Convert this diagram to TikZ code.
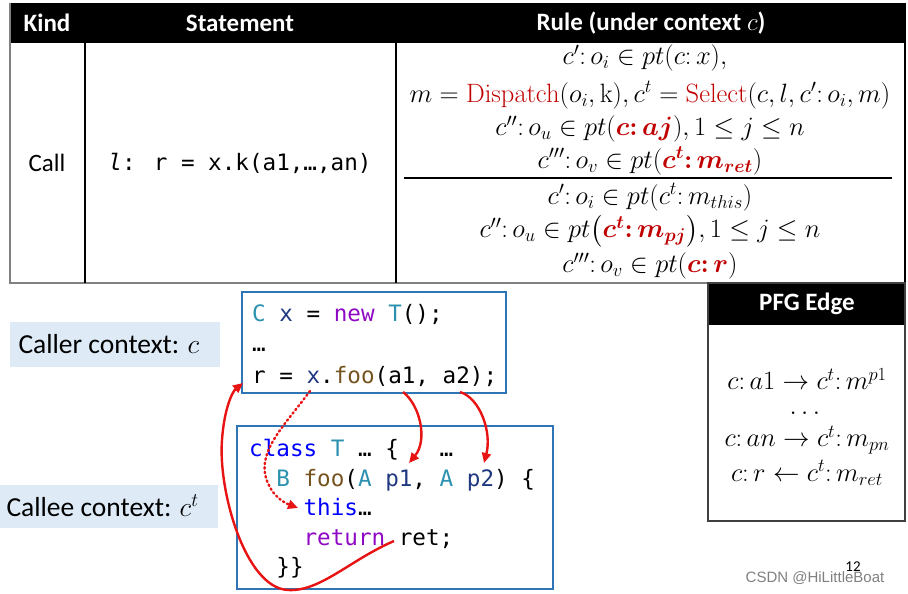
\RequirePackage{fix-cm}
\documentclass[tikz,border=0pt]{standalone}
\usepackage{amsmath, amssymb, bm}
\usepackage{xcolor}
\usepackage[no-math]{fontspec}
\setmainfont{Carlito}
\newfontfamily\codefont{DejaVu Sans Mono}
\newfontfamily\markfont{Liberation Sans}
\usetikzlibrary{positioning, arrows.meta}
\definecolor{boxblue}{RGB}{46,117,182}
\definecolor{labelblue}{RGB}{222,235,247}
\definecolor{rulered}{RGB}{192,0,0}
\definecolor{arrowred}{RGB}{232,20,20}
\definecolor{kwblue}{RGB}{0,0,255}
\definecolor{kwpurple}{RGB}{143,8,196}
\definecolor{typeteal}{RGB}{43,145,175}
\definecolor{varnavy}{RGB}{31,55,127}
\definecolor{funcbrown}{RGB}{116,83,31}
\newcommand{\ckw}[1]{\textcolor{kwblue}{#1}}
\newcommand{\cctl}[1]{\textcolor{kwpurple}{#1}}
\newcommand{\ctype}[1]{\textcolor{typeteal}{#1}}
\newcommand{\cvar}[1]{\textcolor{varnavy}{#1}}
\newcommand{\cfunc}[1]{\textcolor{funcbrown}{#1}}
\newcommand{\hl}[1]{\textcolor{rulered}{\bm{#1}}}
\newcommand{\ctx}[2]{#1{:}\,#2}

\begin{document}
\begin{tikzpicture}[x=1pt,y=-1pt,
  headtxt/.style={text=white, font=\fontsize{25}{29}\selectfont\bfseries},
  celltxt/.style={font=\fontsize{25}{29}\selectfont},
  ruletxt/.style={font=\fontsize{26.5}{30}\selectfont, inner sep=0pt},
  codetxt/.style={anchor=base west, inner sep=0pt, font=\fontsize{22.6}{27}\codefont},
  ctxtxt/.style={anchor=west, font=\fontsize{27.5}{31}\selectfont},
  codebox/.style={draw=boxblue, line width=2pt},
  callarr/.style={-{Triangle[length=10pt,width=9pt]}, line width=2.4pt, arrowred}]
  \useasboundingbox (0,0) rectangle (908,594);

  % rule table
  \fill (10,3) rectangle (905,43);
  \draw[gray, line width=1.2pt] (10,3) -- (10,283) -- (905,283);
  \draw[line width=1.6pt] (85,3) -- (85,283) (396,3) -- (396,283) (905,3) -- (905,283);
  \node[headtxt] (kindhead) at (47,23) {Kind};
  \node[headtxt] (stmthead) at (240,23) {Statement};
  \node[headtxt] (rulehead) at (651,23) {Rule (under context $c$)};
  \node[celltxt] (kindcell) at (47,163) {Call};
  \node[celltxt, font=\fontsize{22.6}{27}\codefont] (stmtcell) at (240,163) {{\itshape l}: r = x.k(a1,…,an)};

  \node[ruletxt] (prem1) at (645,58) {$\ctx{c'}{o_i} \in pt(\ctx{c}{x}),$};
  \node[ruletxt] (prem2) at (650,95) {$m = \textcolor{rulered}{\mathrm{Dispatch}}(o_i,\mathrm{k}), c^t = \textcolor{rulered}{\mathrm{Select}}(c,l,\ctx{c'}{o_i},m)$};
  \node[ruletxt] (prem3) at (650,129) {$\ctx{c''}{o_u} \in pt(\hl{\ctx{c}{aj}}), 1 \le j \le n$};
  \node[ruletxt] (prem4) at (650,161) {$\ctx{c'''}{o_v} \in pt(\hl{\ctx{c^t}{m_{ret}}})$};
  \draw[line width=1.2pt] (404,178) -- (892,178);
  \node[ruletxt] (conc1) at (650,197) {$\ctx{c'}{o_i} \in pt(\ctx{c^t}{m_{this}})$};
  \node[ruletxt] (conc2) at (650,231) {$\ctx{c''}{o_u} \in pt\bigl(\hl{\ctx{c^t}{m_{pj}}}\bigr), 1 \le j \le n$};
  \node[ruletxt] (conc3) at (650,266) {$\ctx{c'''}{o_v} \in pt(\hl{\ctx{c}{r}})$};

  % PFG edge table
  \fill (708,283) rectangle (905,325);
  \draw[black!75, line width=1.4pt] (708,283) rectangle (905,521);
  \node[headtxt] (pfghead) at (807,304) {PFG Edge};
  \node[ruletxt] (edge1) at (807,379) {$\ctx{c}{a1} \rightarrow \ctx{c^t}{m^{p1}}$};
  \node[ruletxt] (edge2) at (807,413) {$\dots$};
  \node[ruletxt] (edge3) at (807,440) {$\ctx{c}{an} \rightarrow \ctx{c^t}{m_{pn}}$};
  \node[ruletxt] (edge4) at (807,473) {$\ctx{c}{r} \leftarrow \ctx{c^t}{m_{ret}}$};

  % context labels
  \fill[labelblue] (10,322) rectangle (220,367);
  \node[ctxtxt] (callerlbl) at (15,344) {Caller context: $c$};
  \fill[labelblue] (0,485) rectangle (218,528);
  \node[ctxtxt] (calleelbl) at (3,506) {Callee context: $c^t$};

  % caller code
  \draw[codebox] (242,292) rectangle (506,393);
  \node[codetxt] (caller1) at (252,321) {\ctype{C} \cvar{x} = \cctl{new} \ctype{T}();};
  \node[codetxt] (caller2) at (252,351) {…};
  \node[codetxt] (caller3) at (252,383) {r = \cvar{x}.\cfunc{foo}(a1, a2);};

  % callee code
  \draw[codebox] (237,426) rectangle (553,589);
  \node[codetxt] (callee1) at (249,456) {\ckw{class} \ctype{T} … \{\ \ \ …};
  \node[codetxt] (callee2) at (249,486) {\ \ \ctype{B} \cfunc{foo}(\ctype{A} \cvar{p1}, \ctype{A} \cvar{p2}) \{};
  \node[codetxt] (callee3) at (249,515) {\ \ \ \ \ckw{this}…};
  \node[codetxt] (callee4) at (249,545) {\ \ \ \ \cctl{return} ret;};
  \node[codetxt] (callee5) at (249,574) {\ \ \}\}};

  % argument, receiver and return flows
  \coordinate (xsrc) at (310,391);
  \coordinate (thisdst) at (298,508);
  \coordinate (a1src) at (403,392);
  \coordinate (p1dst) at (409,463);
  \coordinate (a2src) at (460,392);
  \coordinate (p2dst) at (484,463);
  \coordinate (retsrc) at (394,541);
  \coordinate (rdst) at (243,383);
  \draw[callarr, line cap=round, dash pattern=on 1.5pt off 3pt] (xsrc) .. controls (285,425) and (258,450) .. (266,478) .. controls (272,497) and (285,503) .. (thisdst);
  \draw[callarr] (a1src) .. controls (420,405) and (428,440) .. (p1dst);
  \draw[callarr] (a2src) .. controls (480,398) and (492,432) .. (p2dst);
  \draw[callarr] (retsrc) .. controls (350,560) and (320,592) .. (288,590) .. controls (245,588) and (218,490) .. (222,440) .. controls (224,410) and (232,392) .. (rdst);

  % page marks
  \node[font=\fontsize{15}{18}\selectfont] (pagenum) at (853,567) {12};
  \node[font=\fontsize{15}{18}\markfont, text=gray] (watermark) at (815,578) {CSDN @HiLittleBoat};
\end{tikzpicture}
\end{document}
